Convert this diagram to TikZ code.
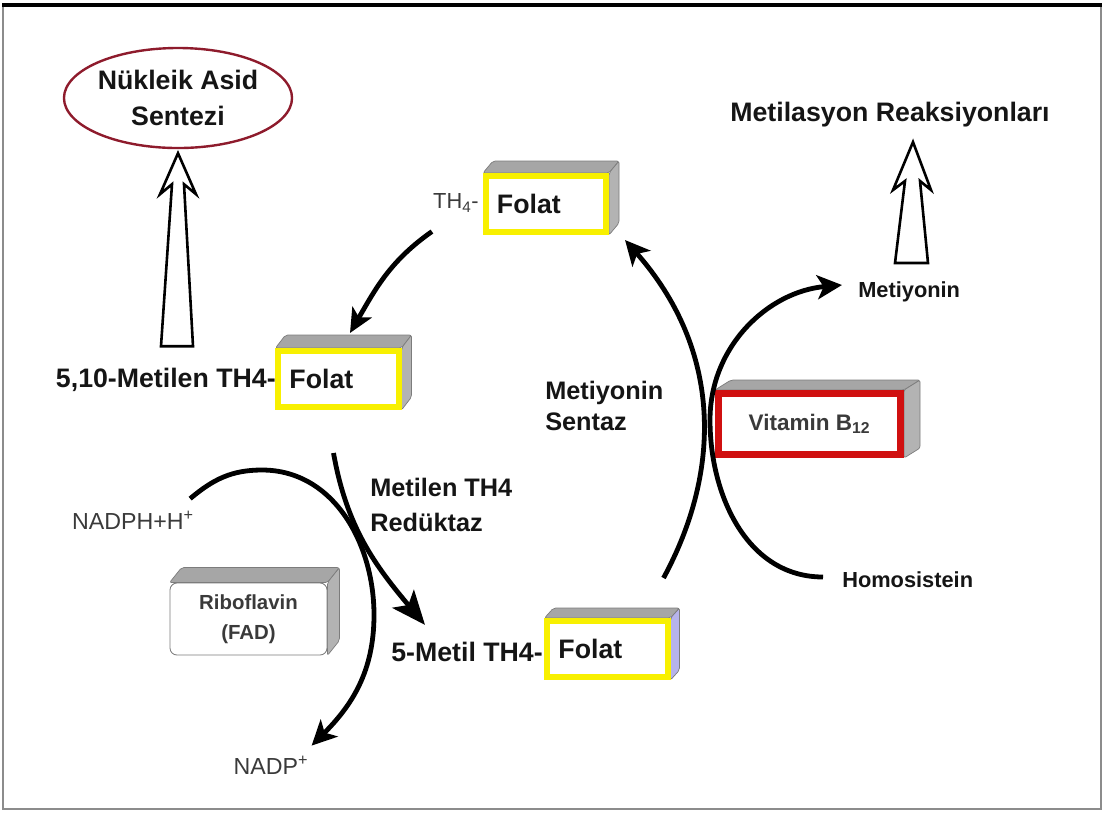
\documentclass[tikz,border=0pt]{standalone}
\usepackage{fontspec}
\setmainfont{Liberation Sans}
\usepackage{tikz}
\usetikzlibrary{arrows.meta,shapes.geometric,backgrounds,calc}
\definecolor{foyellow}{HTML}{F8F000}
\definecolor{fored}{HTML}{D01010}
\definecolor{foruby}{HTML}{8E1B2C}
\definecolor{fogray}{HTML}{A6A6A6}
\definecolor{foedge}{HTML}{7C7C7C}
\definecolor{folilac}{HTML}{A9A6E8}
\definecolor{fotext}{HTML}{151515}
\definecolor{fothin}{HTML}{3A3A3A}
\definecolor{foframe}{HTML}{8C8C8C}

\begin{document}
\begin{tikzpicture}[x=0.025cm, y=0.025cm,
  lbl/.style={font=\fontsize{19}{26}\selectfont\bfseries, text=fotext, inner sep=0pt},
  lblsm/.style={font=\fontsize{15.5}{19}\selectfont\bfseries, text=fotext, inner sep=0pt},
  faint/.style={font=\fontsize{16.5}{20}\selectfont, text=fothin, inner sep=0pt},
  folat/.style={draw=foyellow, fill=white, line width=0.15cm, minimum height=1.4cm, text width=2.45cm, inner xsep=0.275cm, align=left, font=\fontsize{19}{22}\selectfont\bfseries, text=fotext},
  face/.style={draw=foedge, line width=0.5pt, rounded corners=1.5pt},
  flow/.style={-{Stealth[length=0.62cm, width=0.6cm, inset=0.16cm]}, line width=0.12cm},
  hollow/.style={draw, fill=white, line width=0.065cm, line join=miter}
]
\useasboundingbox (0,0) rectangle (1103,-812);
% ---------- frame ----------
\draw[foframe, line width=1.2pt] (3,-5) rectangle (1101,-809);
\draw[black, line width=2.4pt] (2,-5) -- (1102,-5);
% ================= outputs =================
\node[ellipse, draw=foruby, line width=0.06cm, minimum width=5.7cm, minimum height=2.5cm, lbl, align=center] (nas) at (178,-98) {Nükleik Asid\\Sentezi};
\draw[hollow] ([yshift=-0.1cm]nas.south) -- ++(18,-41) -- ++(-12,10) -- ++(9,-162) -- ++(-32,0) -- ++(11,162) -- ++(-12,-10) -- cycle;
\node[lbl] (met) at (890,-115) {Metilasyon Reaksiyonları};
\coordinate (mr) at (913,-142);
\draw[hollow] (mr) -- ++(18,-48) -- ++(-11,9) -- ++(8,-82) -- ++(-33,0) -- ++(10,82) -- ++(-12,-9) -- cycle;
% ================= folate forms =================
\node[folat] (f1) at (546,-204) {Folat};
\node[folat] (f2) at (338.5,-379) {Folat};
\node[folat] (f3) at (607.5,-649) {Folat};
\node[faint, anchor=east, font=\fontsize{15.5}{19}\selectfont] (th4) at (479,-203) {TH\textsubscript{4}-};
\node[lbl, anchor=east] (m510) at (276,-380) {5,10-Metilen TH4-};
\node[lbl, anchor=east] (m5) at (543,-652) {5-Metil TH4-};
% ================= cofactors =================
\node[draw=fored, fill=white, line width=0.175cm, minimum width=4.55cm, minimum height=1.525cm, font=\fontsize{16}{19}\selectfont\bfseries, text=fothin] (b12) at (809.5,-424) {Vitamin B\textsubscript{12}};
\node[draw=foedge, fill=white, line width=0.6pt, rounded corners=5pt, minimum width=3.925cm, minimum height=1.8cm, align=center, font=\fontsize{14.5}{21}\selectfont\bfseries, text=fothin] (rib) at (248.5,-619) {Riboflavin\\(FAD)};
\begin{scope}[on background layer]
\foreach \b/\dx/\dy/\c in {f1/10/12/fogray, f2/10/13/fogray, f3/9/10/folilac, b12/16/10/fogray, rib/12/15/fogray}{
  \filldraw[face, fill=fogray] (\b.north west) -- ++(\dx,\dy) -- ($(\b.north east)+(\dx,\dy)$) -- (\b.north east) -- cycle;
  \filldraw[face, fill=\c!85!white] (\b.north east) -- ++(\dx,\dy) -- ($(\b.south east)+(\dx,\dy)$) -- (\b.south east) -- cycle;}
\end{scope}
% ---------- enzymes and side products ----------
\node[lbl, anchor=west, align=left, font=\fontsize{18}{22}\selectfont\bfseries] (ms) at (545,-406) {Metiyonin\\Sentaz};
\node[lbl, anchor=west, align=left, font=\fontsize{18}{25.5}\selectfont\bfseries] (mtr) at (370,-505) {Metilen TH4\\Redüktaz};
\node[lblsm, anchor=west] (metiy) at (858,-292) {Metiyonin};
\node[lblsm, anchor=west] (homo) at (842,-580) {Homosistein};
\node[faint] (nadph) at (133,-520) {NADPH+H\textsuperscript{+}};
\node[faint] (nadp) at (271,-765) {NADP\textsuperscript{+}};
% ================= the cycle =================
\draw[flow, -{Stealth[length=0.6cm, width=0.55cm, inset=0.15cm]}] ([shift={(-1,-19)}]th4.south west) to[out=215,in=60] ([shift={(11.5,15)}]f2.north);
\draw[flow, -{Stealth[length=0.85cm, width=0.7cm, inset=0.2cm]}] ([shift={(-5,-43)}]f2.south) to[out=-80,in=130] ([shift={(34,17)}]m5.north west);
\draw[flow] ([shift={(-4,12)}]nadph.north east) to[out=40,in=180] (262,-470) to[out=0,in=90] (374,-615) to[out=-90,in=45] ([shift={(3,10)}]nadp.north east);
\draw[flow] ([shift={(-7,40)}]f3.north east) .. controls (722,-470) and (722,-350) .. ([shift={(16,-5)}]f1.south east);
\draw[flow] ([shift={(-19,3)}]homo.west) to[out=180,in=-90] (710,-420) to[out=90,in=185] ([shift={(-16,7)}]metiy.west);
\end{tikzpicture}
\end{document}
